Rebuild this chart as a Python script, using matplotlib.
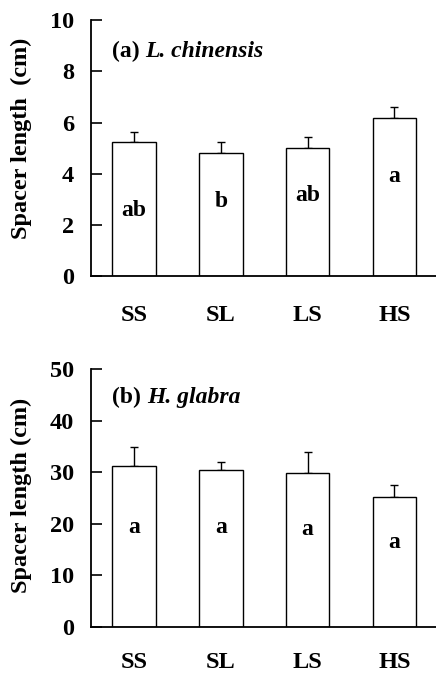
import matplotlib
matplotlib.use("Agg")
import matplotlib.pyplot as plt
import numpy as np

plt.rcParams['font.family'] = 'Liberation Serif'
plt.rcParams['font.weight'] = 'bold'

# data
groups = ['SS', 'SL', 'LS', 'HS']
lc_mean = [5.23, 4.82, 5.01, 6.18]
lc_se = [0.41, 0.41, 0.41, 0.41]
lc_letters = ['ab', 'b', 'ab', 'a']
lc_letter_y = [2.55, 2.9, 3.14, 3.9]
hg_mean = [31.3, 30.4, 29.8, 25.2]
hg_se = [3.5, 1.5, 4.1, 2.3]
hg_letters = ['a', 'a', 'a', 'a']
hg_letter_y = [19.2, 19.2, 18.8, 16.3]

fig = plt.figure(figsize=(4.36, 6.75), dpi=100)
ax1 = fig.add_axes([0.208, 0.591, 0.792, 0.379])
ax2 = fig.add_axes([0.208, 0.0716, 0.792, 0.3814])

def panel(ax, means, se, letters, lety, ymax, step, tag, species, ylab, tpos, ly, xpad):
    x = np.arange(len(groups))
    ax.bar(x, means, width=0.5, color='white', edgecolor='black', linewidth=1.0, zorder=2)
    ax.errorbar(x, means, yerr=[np.zeros(len(se)), se], fmt='none', ecolor='black',
                elinewidth=1.0, capsize=3.2, capthick=1.0, zorder=1)
    for xi, l, yy in zip(x, letters, lety):
        ax.text(xi, yy, l, ha='center', va='center', fontsize=17, fontweight='bold')
    ax.set_xlim(-0.5, 3.48)
    ax.set_ylim(0, ymax)
    ax.set_yticks(np.arange(0, ymax + 1, step))
    ax.set_xticks(x)
    ax.set_xticklabels(groups)
    ax.tick_params(axis='y', direction='in', length=8, width=1.2, labelsize=17.5, pad=12)
    ax.tick_params(axis='x', length=0, labelsize=17.5, pad=xpad)
    for s in ['top', 'right']:
        ax.spines[s].set_visible(False)
    for s in ['left', 'bottom']:
        ax.spines[s].set_linewidth(1.3)
    ax.set_ylabel(ylab, fontsize=17.5, fontweight='bold')
    ax.yaxis.set_label_coords(-0.17, ly)
    t1 = ax.text(tpos[0], tpos[1], tag, transform=ax.transAxes, fontsize=17,
                 fontweight='bold', va='bottom', ha='left')
    ax.annotate(species, xy=(1, 0), xycoords=t1, fontsize=17, fontweight='bold',
                fontstyle='italic', va='bottom', ha='left')

panel(ax1, lc_mean, lc_se, lc_letters, lc_letter_y, 10, 2, '(a) ', 'L. chinensis',
      'Spacer length  (cm)', (0.062, 0.836), 0.54, 21)
panel(ax2, hg_mean, hg_se, hg_letters, hg_letter_y, 50, 10, '(b) ', 'H. glabra',
      'Spacer length (cm)', (0.062, 0.851), 0.51, 18)

fig.savefig('out.png', dpi=100)
